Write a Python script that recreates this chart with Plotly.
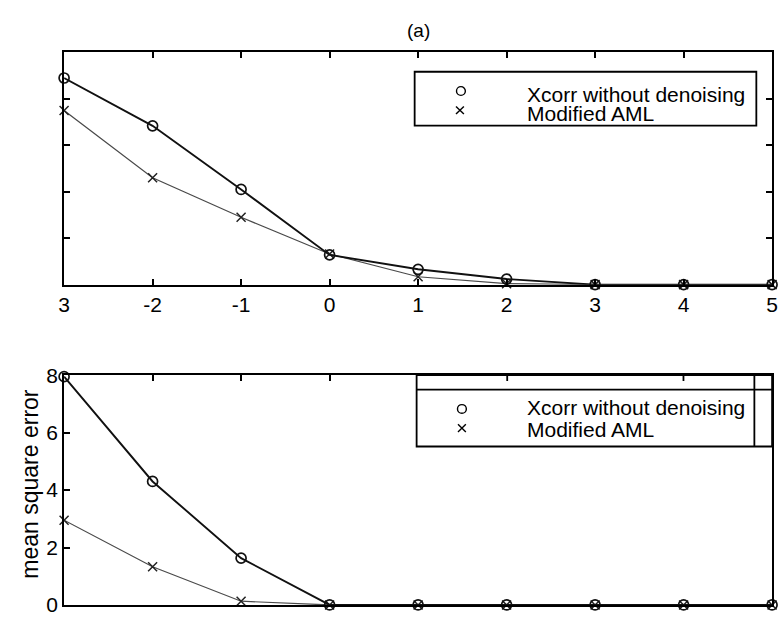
import plotly.graph_objects as go

# ---- data ----
snr = [-3, -2, -1, 0, 1, 2, 3, 4, 5]
tick_text_top = ["3", "-2", "-1", "0", "1", "2", "3", "4", "5"]

# panel (a) top
xcorr_top = [4.45, 3.42, 2.05, 0.64, 0.33, 0.12, 0.0, 0.0, 0.0]
aml_top = [3.75, 2.30, 1.45, 0.66, 0.17, 0.02, 0.0, 0.0, 0.0]

# bottom panel
xcorr_bot = [7.95, 4.30, 1.63, 0.0, 0.0, 0.0, 0.0, 0.0, 0.0]
aml_bot = [2.95, 1.33, 0.13, 0.0, 0.0, 0.0, 0.0, 0.0, 0.0]

series_names = ["Xcorr without denoising", "Modified AML"]
ytitle = "mean square error"
panel_title = "(a)"

W, H = 784, 628
FONT = "Liberation Sans, Arial, sans-serif"


def px(x):
    return x / W


def py(y):
    return 1 - y / H


fig = go.Figure()

for (xa, ya, s1, s2) in [("x", "y", xcorr_top, aml_top), ("x2", "y2", xcorr_bot, aml_bot)]:
    fig.add_trace(go.Scatter(
        x=snr, y=s2, xaxis=xa, yaxis=ya, mode="lines+markers", name=series_names[1],
        line=dict(color="#4a4a4a", width=1.2),
        marker=dict(symbol="x-thin", size=9, line=dict(color="#222", width=1.5)),
        cliponaxis=False, showlegend=False))
    fig.add_trace(go.Scatter(
        x=snr, y=s1, xaxis=xa, yaxis=ya, mode="lines+markers", name=series_names[0],
        line=dict(color="#111", width=1.9),
        marker=dict(symbol="circle-open", size=10, color="#111", line=dict(width=1.7)),
        cliponaxis=False, showlegend=False))

xdom = [px(59), px(778)]
common = dict(showgrid=False, zeroline=False, showline=True, linecolor="black",
              linewidth=2, ticks="inside", tickcolor="black", tickwidth=1.5, ticklen=6,
              tickfont=dict(family=FONT, size=21, color="black"))

fig.update_layout(
    width=W, height=H, margin=dict(l=0, r=0, t=0, b=0),
    paper_bgcolor="white", plot_bgcolor="white", showlegend=False,
    xaxis=dict(domain=xdom, anchor="y", range=[-3, 5], tickmode="array",
               tickvals=snr, ticktext=tick_text_top, mirror="ticks", **common),
    yaxis=dict(domain=[py(283), py(42)], anchor="x", range=[0, 5], tickvals=[1, 2, 3, 4],
               showticklabels=False, mirror="ticks", **common),
    xaxis2=dict(domain=xdom, anchor="y2", range=[-3, 5], side="top",
                tickvals=[-2, -1, 0, 2, 4], showticklabels=False, mirror=True, **common),
    yaxis2=dict(domain=[py(615.5), py(377)], anchor="x2", range=[0, 8],
                tickvals=[0, 2, 4, 6, 8], mirror=True, **common),
)

ann = []
ann.append(dict(text=panel_title, x=px(419), y=py(19), xref="paper", yref="paper",
                xanchor="center", yanchor="middle",
                showarrow=False, font=dict(family=FONT, size=19, color="black")))
ann.append(dict(text=ytitle, x=px(24), y=py(490), xref="paper", yref="paper",
                xanchor="center", yanchor="middle",
                textangle=-90, showarrow=False, font=dict(family=FONT, size=23, color="black")))

shapes = []


def legend(box, circ, cross, tx, ty1, ty2):
    shapes.append(dict(type="rect", xref="paper", yref="paper", x0=px(box[0]), x1=px(box[2]),
                       y0=py(box[1]), y1=py(box[3]), line=dict(color="black", width=1.8),
                       fillcolor="white", layer="above"))
    r = 4.5
    shapes.append(dict(type="circle", xref="paper", yref="paper",
                       x0=px(circ[0] - r), x1=px(circ[0] + r), y0=py(circ[1] - r), y1=py(circ[1] + r),
                       line=dict(color="black", width=1.4), layer="above"))
    c = 4
    shapes.append(dict(type="line", xref="paper", yref="paper",
                       x0=px(cross[0] - c), x1=px(cross[0] + c), y0=py(cross[1] - c), y1=py(cross[1] + c),
                       line=dict(color="black", width=1.4), layer="above"))
    shapes.append(dict(type="line", xref="paper", yref="paper",
                       x0=px(cross[0] - c), x1=px(cross[0] + c), y0=py(cross[1] + c), y1=py(cross[1] - c),
                       line=dict(color="black", width=1.4), layer="above"))
    for t, yy in zip(series_names, [ty1, ty2]):
        ann.append(dict(text=t, x=px(tx), y=py(yy), xref="paper", yref="paper",
                        xanchor="left", yanchor="middle", showarrow=False,
                        font=dict(family=FONT, size=21, color="black")))


legend((415, 62, 762, 118), (462, 82), (461, 102), 527, 86, 105)

# bottom legend with its frame
legend((417, 377, 778, 451), (463, 412), (463, 432), 527, 411, 433)
shapes.append(dict(type="line", xref="paper", yref="paper", x0=px(417), x1=px(778),
                   y0=py(392), y1=py(392), line=dict(color="black", width=1.8), layer="above"))
shapes.append(dict(type="line", xref="paper", yref="paper", x0=px(760), x1=px(760),
                   y0=py(377), y1=py(451), line=dict(color="black", width=1.8), layer="above"))
for tx in [509, 688]:
    shapes.append(dict(type="line", xref="paper", yref="paper", x0=px(tx), x1=px(tx),
                       y0=py(377), y1=py(383), line=dict(color="black", width=1.8), layer="above"))

fig.update_layout(annotations=ann, shapes=shapes)
fig.write_html("out.html")
